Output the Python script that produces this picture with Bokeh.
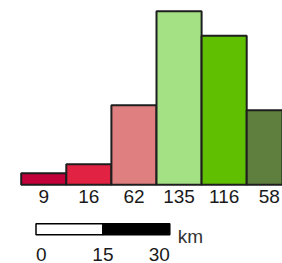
from bokeh.plotting import figure
from bokeh.models import ColumnDataSource, Range1d
from bokeh.embed import file_html
from bokeh.resources import INLINE
from bokeh.core.properties import value

# ---- data ----
labels = ["9", "16", "62", "135", "116", "58"]
counts = [9, 16, 62, 135, 116, 58]
colors = ["#C2003A", "#E22242", "#E07F80", "#A4E185", "#60BF00", "#5F7F3F"]
scale_km = [0, 15, 30]
scale_unit = "km"

# ---- layout ----
W, H = 282, 263
px_per_bar = 45.1
px_per_count = 1.285
base_py = 184.3           # baseline of bars, in figure pixels from top
left_px = 20.7            # left edge of first bar
x0 = -0.5 - left_px / px_per_bar

p = figure(width=W, height=H, output_backend="svg", toolbar_location=None,
           x_range=Range1d(x0, x0 + W / px_per_bar),
           y_range=Range1d(-(H - base_py) / px_per_count, base_py / px_per_count),
           min_border=0, outline_line_color=None)
p.axis.visible = False
p.grid.visible = False
p.background_fill_color = "white"
p.border_fill_color = "white"

# extra ranges for the scale bar (km horizontally, pixels vertically)
km_px = 4.46
km0_px = 35.5
p.extra_x_ranges = {"km": Range1d(-km0_px / km_px, (W - km0_px) / km_px)}
p.extra_y_ranges = {"px": Range1d(H, 0)}

idx = list(range(len(counts)))
src = ColumnDataSource(dict(x=idx, top=counts, color=colors, label=labels))
p.vbar(x="x", top="top", bottom=0, width=1, fill_color="color",
       line_color="#1e1e1e", line_width=2, source=src)

p.text(x="x", y=0, text="label", source=src, text_align="center",
       text_baseline="middle", y_offset=11.5, text_font=value("Liberation Sans"),
       text_font_size="19px", text_color="#1a1a1a")

# scale bar
seg_left = scale_km[:-1]
seg_right = scale_km[1:]
p.quad(left=seg_left, right=seg_right, top=223.3, bottom=234.3,
       fill_color=["white", "black"], line_color="black", line_width=1.5,
       x_range_name="km", y_range_name="px")

aligns = ["left", "center", "right"]
p.text(x=scale_km, y=[253.5] * 3, text=[str(v) for v in scale_km],
       text_align=aligns, text_baseline="middle",
       text_font=value("Liberation Sans"), text_font_size="19px",
       text_color="#1a1a1a", x_range_name="km", y_range_name="px")
p.text(x=[scale_km[-1]], y=[235.5], text=[scale_unit], x_offset=8,
       text_align="left", text_baseline="middle",
       text_font=value("Liberation Sans"), text_font_size="19px",
       text_color="#333333", x_range_name="km", y_range_name="px")

open("out.html", "w").write(file_html(p, INLINE))
